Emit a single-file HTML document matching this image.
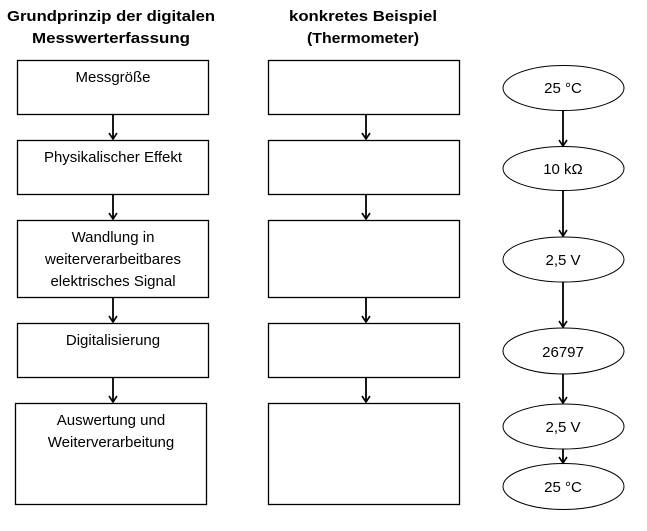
<!DOCTYPE html>
<html><head><meta charset="utf-8"><style>
html,body{margin:0;padding:0;background:#fff;}
svg{display:block;}
text{font-family:"Liberation Sans",sans-serif;fill:#000;}
</style></head><body>
<svg width="647" height="531" viewBox="0 0 647 531" xmlns="http://www.w3.org/2000/svg">
<defs><marker id="a" markerWidth="10" markerHeight="10" refX="8" refY="5" orient="auto" markerUnits="userSpaceOnUse">
<path d="M2,1 L8,5 L2,9" fill="none" stroke="#000" stroke-width="1.6"/></marker></defs>
<g font-weight="bold" font-size="15" text-anchor="middle">
<text x="111" y="21" textLength="208" lengthAdjust="spacingAndGlyphs">Grundprinzip der digitalen</text>
<text x="111" y="43" textLength="158" lengthAdjust="spacingAndGlyphs">Messwerterfassung</text>
<text x="363" y="21" textLength="148" lengthAdjust="spacingAndGlyphs">konkretes Beispiel</text>
<text x="363" y="43" textLength="112" lengthAdjust="spacingAndGlyphs">(Thermometer)</text>
</g>
<g fill="none" stroke="#000" stroke-width="1.3">
<rect x="17.5" y="60.5" width="191" height="54"/>
<rect x="17.5" y="140.5" width="191" height="54"/>
<rect x="17.5" y="220.5" width="191" height="77"/>
<rect x="17.5" y="323.5" width="191" height="54"/>
<rect x="15.5" y="403.5" width="191" height="101"/>
<rect x="268.5" y="60.5" width="191" height="54"/>
<rect x="268.5" y="140.5" width="191" height="54"/>
<rect x="268.5" y="220.5" width="191" height="77"/>
<rect x="268.5" y="323.5" width="191" height="54"/>
<rect x="268.5" y="403.5" width="191" height="101"/>
<ellipse cx="563.5" cy="88" rx="60.5" ry="22.5" stroke-width="1"/>
<ellipse cx="563.5" cy="168.5" rx="60.5" ry="22" stroke-width="1"/>
<ellipse cx="563.5" cy="259.5" rx="60.5" ry="22.5" stroke-width="1"/>
<ellipse cx="563.5" cy="351" rx="60.5" ry="23" stroke-width="1"/>
<ellipse cx="563.5" cy="426.5" rx="60.5" ry="22.5" stroke-width="1"/>
<ellipse cx="563.5" cy="486.5" rx="60.5" ry="23" stroke-width="1"/>
</g>
<g stroke="#000" stroke-width="1.8" marker-end="url(#a)">
<line x1="113" y1="115" x2="113" y2="139"/>
<line x1="113" y1="195" x2="113" y2="219"/>
<line x1="113" y1="298" x2="113" y2="322"/>
<line x1="113" y1="378" x2="113" y2="402"/>
<line x1="366" y1="115" x2="366" y2="139"/>
<line x1="366" y1="195" x2="366" y2="219"/>
<line x1="366" y1="298" x2="366" y2="322"/>
<line x1="366" y1="378" x2="366" y2="402"/>
<line x1="563" y1="110" x2="563" y2="146"/>
<line x1="563" y1="191" x2="563" y2="236"/>
<line x1="563" y1="282" x2="563" y2="327"/>
<line x1="563" y1="374" x2="563" y2="403"/>
<line x1="563" y1="449" x2="563" y2="463"/>
</g>
<g font-size="15" text-anchor="middle">
<text x="113" y="82">Messgröße</text>
<text x="113" y="162">Physikalischer Effekt</text>
<text x="113" y="242">Wandlung in</text>
<text x="113" y="264">weiterverarbeitbares</text>
<text x="113" y="286">elektrisches Signal</text>
<text x="113" y="345">Digitalisierung</text>
<text x="111" y="425">Auswertung und</text>
<text x="111" y="447">Weiterverarbeitung</text>
<text x="563" y="93">25 °C</text>
<text x="563" y="174">10 kΩ</text>
<text x="563" y="265">2,5 V</text>
<text x="563" y="357">26797</text>
<text x="563" y="432">2,5 V</text>
<text x="563" y="492">25 °C</text>
</g>
</svg>
</body></html>
